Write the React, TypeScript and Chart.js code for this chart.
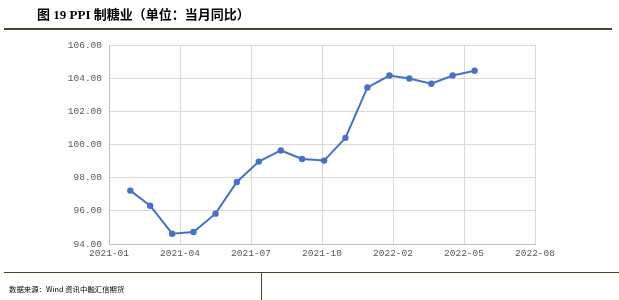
import React, { useEffect, useRef } from "react";
import { Chart, registerables } from "chart.js";

Chart.register(...registerables);

const TITLE = "图 19 PPI 制糖业（单位：当月同比）";
const SOURCE = "数据来源：Wind 资讯中融汇信期货";

const dates = [
  "2021-01-31", "2021-02-28", "2021-03-31", "2021-04-30", "2021-05-31", "2021-06-30",
  "2021-07-31", "2021-08-31", "2021-09-30", "2021-10-31", "2021-11-30", "2021-12-31",
  "2022-01-31", "2022-02-28", "2022-03-31", "2022-04-30", "2022-05-31",
];
const values = [
  97.22, 96.31, 94.62, 94.72, 95.83, 97.74, 98.97, 99.64, 99.13, 99.03, 100.4, 103.44,
  104.16, 103.98, 103.66, 104.16, 104.45,
];
const axisStart = "2021-01-01";
const axisEndDays = 600;
const axisStepDays = 100;
const yMin = 94;
const yMax = 106;
const yStep = 2;

const DAY = 86400000;
const toDays = (s: string) => {
  const [y, m, d] = s.split("-").map(Number);
  const [y0, m0, d0] = axisStart.split("-").map(Number);
  return (Date.UTC(y, m - 1, d) - Date.UTC(y0, m0 - 1, d0)) / DAY;
};
const fmtDay = (n: number) => {
  const [y0, m0, d0] = axisStart.split("-").map(Number);
  const dt = new Date(Date.UTC(y0, m0 - 1, d0) + n * DAY);
  return `${dt.getUTCFullYear()}-${String(dt.getUTCMonth() + 1).padStart(2, "0")}`;
};

export default function App() {
  const ref = useRef<HTMLCanvasElement>(null);
  useEffect(() => {
    if (!ref.current) return;
    const tickFont = { family: "'Liberation Mono', 'DejaVu Sans Mono', monospace", size: 9.5 };
    const chart = new Chart(ref.current, {
      type: "line",
      data: {
        datasets: [
          {
            data: dates.map((d, i) => ({ x: toDays(d), y: values[i] })),
            borderColor: "#4472C4",
            backgroundColor: "#4472C4",
            borderWidth: 2,
            pointRadius: 3.2,
            pointBorderWidth: 0,
            tension: 0,
          },
        ],
      },
      options: {
        animation: false,
        responsive: false,
        maintainAspectRatio: false,
        layout: { padding: { left: 49, top: 45, right: 84, bottom: 36 } },
        plugins: { legend: { display: false }, tooltip: { enabled: false } },
        scales: {
          x: {
            type: "linear",
            min: 0,
            max: axisEndDays,
            afterFit: (s: any) => { s.height = 20; },
            ticks: {
              stepSize: axisStepDays,
              color: "#595959",
              font: tickFont,
              padding: 4,
              maxRotation: 0,
              callback: (v: any) => fmtDay(Number(v)),
            },
            grid: { color: "#d9d9d9", drawTicks: false },
            border: { color: "#bfbfbf" },
          },
          y: {
            min: yMin,
            max: yMax,
            afterFit: (s: any) => { s.width = 60; },
            ticks: {
              stepSize: yStep,
              color: "#595959",
              font: tickFont,
              padding: 7,
              callback: (v: any) => Number(v).toFixed(2),
            },
            grid: { color: "#d9d9d9", drawTicks: false },
            border: { color: "#bfbfbf" },
          },
        },
      },
    });
    return () => chart.destroy();
  }, []);

  return (
    <div style={{ position: "fixed", left: 0, top: 0, width: 619, height: 300, background: "#fff", overflow: "hidden" }}>
      <canvas ref={ref} width={619} height={300} style={{ position: "absolute", left: 0, top: 0, width: 619, height: 300 }} />
      <div
        style={{
          position: "absolute", left: 37, top: 6, fontSize: 13, fontWeight: "bold", lineHeight: "18px",
          fontFamily: "'Liberation Serif', 'Noto Sans CJK SC', serif", color: "#000", whiteSpace: "nowrap",
        }}
      >
        {TITLE}
      </div>
      <div style={{ position: "absolute", left: 4, top: 28, width: 608, height: 1.5, background: "#4d4425" }} />
      <div style={{ position: "absolute", left: 4, top: 271.5, width: 615, height: 1.2, background: "#4d4425" }} />
      <div style={{ position: "absolute", left: 261, top: 272, width: 1, height: 28, background: "#4d4425" }} />
      <div
        style={{
          position: "absolute", left: 9, top: 282.5, fontSize: 7.4, lineHeight: "11px",
          fontFamily: "'Noto Sans CJK SC', sans-serif", color: "#000", whiteSpace: "nowrap",
        }}
      >
        {SOURCE}
      </div>
    </div>
  );
}
